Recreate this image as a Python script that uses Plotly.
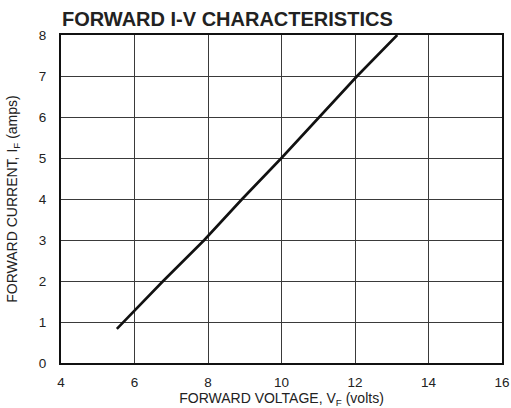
import plotly.graph_objects as go

# Data
vf_volts = [5.52, 6.78, 7.90, 8.93, 10.0, 11.03, 12.06, 13.15]
if_amps = [0.83, 2.0, 3.0, 4.0, 5.0, 6.0, 7.0, 8.0]

x_ticks = [4, 6, 8, 10, 12, 14, 16]
y_ticks = [0, 1, 2, 3, 4, 5, 6, 7, 8]

fig = go.Figure()
fig.add_trace(go.Scatter(
    x=vf_volts, y=if_amps, mode="lines",
    line=dict(color="#111111", width=2.6),
    hoverinfo="skip", showlegend=False,
))

font_family = "Liberation Sans, Arial, sans-serif"

fig.update_layout(
    width=511, height=408,
    margin=dict(l=61, r=9, t=35, b=45, autoexpand=False),
    paper_bgcolor="white", plot_bgcolor="white",
    font=dict(family=font_family, color="#222222", size=13),
    title=dict(
        text="<b>FORWARD I-V CHARACTERISTICS</b>",
        x=62 / 511, xanchor="left", xref="container",
        y=1 - 19 / 408, yanchor="middle", yref="container",
        font=dict(family=font_family, size=20, color="#222222"),
        automargin=False,
    ),
)

fig.update_xaxes(
    range=[4, 16], tickvals=x_ticks, ticktext=[str(v) for v in x_ticks],
    showgrid=True, gridcolor="#3a3a3a", gridwidth=1,
    showline=True, linecolor="#111111", linewidth=2, mirror=True,
    ticks="", ticklabelstandoff=6, zeroline=False, automargin=False,
    tickfont=dict(size=13.5, color="#222222"),
    title=dict(text="FORWARD VOLTAGE, V<sub>F</sub> (volts)",
               font=dict(size=14, color="#222222"), standoff=2),
)
fig.update_yaxes(
    range=[0, 8], tickvals=y_ticks, ticktext=[str(v) for v in y_ticks],
    showgrid=True, gridcolor="#3a3a3a", gridwidth=1,
    showline=True, linecolor="#111111", linewidth=2, mirror=True,
    ticks="", ticklabelstandoff=10, zeroline=False, automargin=False,
    tickfont=dict(size=13.5, color="#222222"),
    title=dict(text="FORWARD CURRENT, I<sub>F</sub> (amps)",
               font=dict(size=14, color="#222222"), standoff=18),
)

fig.write_html(
    "out.html",
    config={"displayModeBar": False},
    post_script="document.body.style.margin='0';document.body.style.overflow='hidden';",
)
